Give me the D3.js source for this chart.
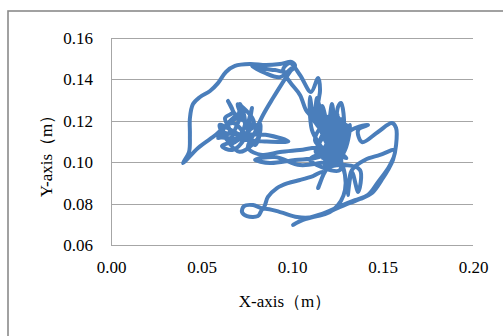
<!DOCTYPE html>
<html>
<head>
<meta charset="utf-8">
<script src="https://cdn.jsdelivr.net/npm/d3@7"></script>
<style>
  body { margin: 0; background: #fff; }
  svg { display: block; }
  svg text { font-family: "Times New Roman", "Liberation Serif", "DejaVu Serif", serif; }
</style>
</head>
<body>
<div id="chart"></div>
<script>
// trajectory
const xVals = [
  0.0600, 0.0720, 0.0850, 0.0980, 0.0870, 0.0620, 0.0720, 0.0660, 0.0790, 0.0700,
  0.0760, 0.0600, 0.0710, 0.0820, 0.0690,
  0.0591, 0.0657, 0.0630, 0.0674, 0.0646, 0.0702, 0.0713, 0.0740, 0.0685, 0.0613,
  0.0669, 0.0740, 0.0779, 0.0757, 0.0823, 0.0796, 0.0674, 0.0564, 0.0481, 0.0398,
  0.0431, 0.0436, 0.0436, 0.0453, 0.0492, 0.0547, 0.0591, 0.0635, 0.0685, 0.0768,
  0.0856, 0.0934, 0.1000, 0.1017, 0.0978, 0.0906, 0.0823, 0.0779, 0.0851, 0.0934,
  0.1000, 0.0950, 0.0895, 0.0840, 0.0796, 0.0757, 0.0834, 0.0934, 0.1044, 0.1144,
  0.1210, 0.1127, 0.1017, 0.0878, 0.0796, 0.0906, 0.1044, 0.1155, 0.1238, 0.1182,
  0.1144, 0.1166, 0.1199, 0.1221, 0.1238, 0.1254, 0.1271, 0.1287, 0.1254, 0.1210,
  0.1182, 0.1265, 0.1320, 0.1293, 0.1227, 0.1155, 0.1110, 0.1099, 0.1122, 0.1138,
  0.1166, 0.1099, 0.1077, 0.1044, 0.0989, 0.0950, 0.0989, 0.1044, 0.1105, 0.1144,
  0.1155, 0.1144, 0.1155, 0.1265, 0.1348, 0.1420, 0.1365, 0.1387, 0.1475, 0.1552,
  0.1575, 0.1575, 0.1558, 0.1530, 0.1503, 0.1442, 0.1376, 0.1320, 0.1227, 0.1116,
  0.1061, 0.1006, 0.1072, 0.1166, 0.1265, 0.1348, 0.1420, 0.1475, 0.1541, 0.1569,
  0.1486, 0.1403, 0.1331, 0.1309, 0.1331, 0.1365, 0.1376, 0.1293, 0.1199, 0.1144,
  0.1171, 0.1116, 0.1044, 0.0978, 0.0917, 0.0867, 0.0840, 0.0785, 0.0735, 0.0724,
  0.0751, 0.0812, 0.0840, 0.0934, 0.1028, 0.1116, 0.1227, 0.1293, 0.1265, 0.1127,
  0.1238, 0.1293, 0.1199, 0.1099, 0.1265, 0.1210,
  0.1150, 0.1230, 0.1180, 0.1270, 0.1200, 0.1290, 0.1160, 0.1250, 0.1210, 0.1300,
  0.1190, 0.1280, 0.1170, 0.1240, 0.1130, 0.1220, 0.1310, 0.1200, 0.1150, 0.1260,
  0.1180, 0.1270, 0.1210, 0.1300, 0.1240
];
const yVals = [
  0.1120, 0.1110, 0.1100, 0.1100, 0.1130, 0.1150, 0.1240, 0.1090, 0.1190, 0.1280,
  0.1120, 0.1180, 0.1050, 0.1140, 0.1210,
  0.1117, 0.1146, 0.1213, 0.1242, 0.1296, 0.1213, 0.1281, 0.1180, 0.1107, 0.1078,
  0.1059, 0.1117, 0.1262, 0.1156, 0.1185, 0.1083, 0.1189, 0.1122, 0.1069, 0.0996,
  0.1049, 0.1131, 0.1213, 0.1281, 0.1315, 0.1344, 0.1382, 0.1436, 0.1465, 0.1474,
  0.1469, 0.1474, 0.1484, 0.1465, 0.1436, 0.1445, 0.1455, 0.1465, 0.1431, 0.1411,
  0.1455, 0.1387, 0.1310, 0.1228, 0.1146, 0.1069, 0.1035, 0.1049, 0.1059, 0.1069,
  0.1049, 0.1020, 0.1011, 0.0996, 0.1011, 0.1025, 0.0986, 0.0996, 0.1011, 0.1107,
  0.1204, 0.1271, 0.1180, 0.1281, 0.1156, 0.1267, 0.1286, 0.1156, 0.1059, 0.1131,
  0.1011, 0.1083, 0.1180, 0.1059, 0.0986, 0.1083, 0.1156, 0.1315, 0.1204, 0.1310,
  0.1156, 0.1228, 0.1252, 0.1325, 0.1387, 0.1445, 0.1479, 0.1421, 0.1339, 0.1407,
  0.1349, 0.1276, 0.1204, 0.1131, 0.1165, 0.1180, 0.1156, 0.1097, 0.1146, 0.1189,
  0.1165, 0.1083, 0.1011, 0.0962, 0.0924, 0.0851, 0.0822, 0.0803, 0.0769, 0.0735,
  0.0721, 0.0697, 0.0726, 0.0750, 0.0788, 0.0817, 0.0842, 0.0904, 0.0986, 0.1059,
  0.1035, 0.1011, 0.0962, 0.0842, 0.0953, 0.0856, 0.0962, 0.0986, 0.0972, 0.0875,
  0.0953, 0.0933, 0.0914, 0.0899, 0.0875, 0.0832, 0.0779, 0.0793, 0.0788, 0.0759,
  0.0740, 0.0740, 0.0774, 0.0759, 0.0735, 0.0735, 0.0769, 0.0866, 0.1011, 0.1107,
  0.1228, 0.1107, 0.1059, 0.1011, 0.0962, 0.1180,
  0.1100, 0.1200, 0.1050, 0.1150, 0.0990, 0.1080, 0.1160, 0.1230, 0.1080, 0.1020,
  0.1130, 0.1210, 0.1020, 0.1100, 0.1050, 0.1160, 0.1120, 0.1220, 0.1180, 0.1040,
  0.0980, 0.1090, 0.1140, 0.1180, 0.1000
];
const xTicks = [0.00, 0.05, 0.10, 0.15, 0.20];
const yTicks = [0.06, 0.08, 0.10, 0.12, 0.14, 0.16];
const xTitle = 'X-axis（m）';
const yTitle = 'Y-axis（m）';

const W = 503, H = 336;
const margin = { top: 38, right: 30, bottom: 91, left: 111 };
const width = W - margin.left - margin.right;
const height = H - margin.top - margin.bottom;
const serif = '"Times New Roman", "Liberation Serif", "DejaVu Serif", serif';

const root = d3.select('#chart').append('svg')
  .attr('width', W)
  .attr('height', H);

root.append('rect')
  .attr('width', W).attr('height', H)
  .attr('fill', '#fff');

// outer chart frame (right and bottom edges run off the picture)
root.append('rect')
  .attr('x', 8).attr('y', 11)
  .attr('width', 600).attr('height', 400)
  .attr('fill', 'none')
  .attr('stroke', '#8a8a8a')
  .attr('stroke-width', 1.6);

const svg = root.append('g')
  .attr('transform', `translate(${margin.left},${margin.top})`);

const x = d3.scaleLinear().domain([0, 0.20]).range([0, width]);
const y = d3.scaleLinear().domain([0.06, 0.16]).range([height, 0]);

// gridlines
svg.append('g')
  .selectAll('line')
  .data(yTicks)
  .join('line')
    .attr('x1', 0).attr('x2', width)
    .attr('y1', d => Math.round(y(d)) + 0.5)
    .attr('y2', d => Math.round(y(d)) + 0.5)
    .attr('stroke', '#a6a6a6')
    .attr('stroke-width', 1);

svg.append('line')
  .attr('x1', 0.5).attr('x2', 0.5)
  .attr('y1', 0).attr('y2', height)
  .attr('stroke', '#a6a6a6');

// tick labels
const yAxis = svg.append('g')
  .call(d3.axisLeft(y).tickValues(yTicks).tickFormat(d3.format('.2f')).tickSize(0).tickPadding(18))
  .attr('font-family', serif)
  .attr('font-size', 17);
yAxis.select('.domain').remove();
yAxis.selectAll('text').style('fill', '#000');

const xAxis = svg.append('g')
  .attr('transform', `translate(0,${height})`)
  .call(d3.axisBottom(x).tickValues(xTicks).tickFormat(d3.format('.2f')).tickSize(0).tickPadding(16))
  .attr('font-family', serif)
  .attr('font-size', 17);
xAxis.select('.domain').remove();
xAxis.selectAll('text').style('fill', '#000');

// axis titles
root.append('text')
  .attr('x', 285).attr('y', 307)
  .attr('text-anchor', 'middle')
  .attr('font-family', serif)
  .attr('font-size', 17)
  .text(xTitle);

root.append('text')
  .attr('transform', 'translate(52,152) rotate(-90)')
  .attr('text-anchor', 'middle')
  .attr('font-family', serif)
  .attr('font-size', 17)
  .text(yTitle);

const pts = xVals.map((v, i) => [v, yVals[i]]);

const line = d3.line()
  .x(d => x(d[0]))
  .y(d => y(d[1]))
  .curve(d3.curveCatmullRom.alpha(0.5));

svg.append('path')
  .datum(pts)
  .attr('fill', 'none')
  .attr('stroke', '#4a7ebb')
  .attr('stroke-width', 4)
  .attr('stroke-linejoin', 'round')
  .attr('stroke-linecap', 'round')
  .attr('d', line);
</script>
</body>
</html>
